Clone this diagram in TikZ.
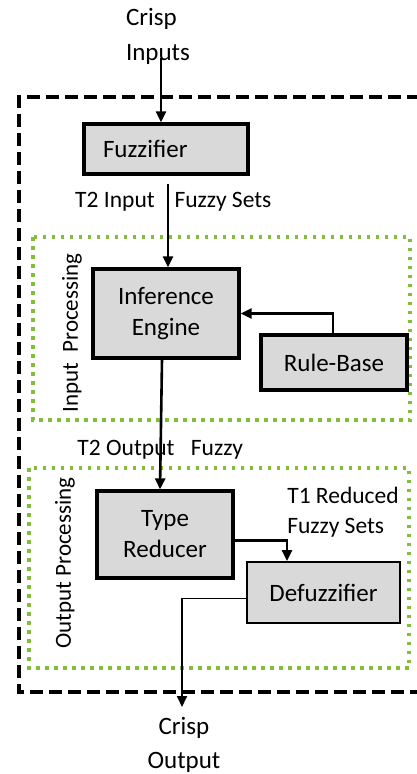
\documentclass[tikz,border=0pt]{standalone}
\usepackage{fontspec}
\setmainfont{Carlito}
\usetikzlibrary{arrows.meta}
\definecolor{boxgray}{RGB}{217,217,217}
\definecolor{dotgreen}{RGB}{130,190,60}

\begin{document}
\begin{tikzpicture}[x=1pt,y=-1pt,>={Triangle[length=11pt,width=10pt]},line width=2.6pt,
    block/.style={draw,line width=3.2pt,fill=boxgray,inner sep=0pt,align=center,font=\fontsize{25}{31}\selectfont},
    lbl/.style={inner sep=0pt,font=\fontsize{23.5}{30}\selectfont},
    region/.style={draw=dotgreen,line width=3.6pt,dash pattern=on 3.5pt off 5.5pt},
    side/.style={inner sep=0pt,rotate=90,font=\fontsize{23}{26}\selectfont}]
    \useasboundingbox (0,0) rectangle (417,774);

    % outer frame and the two processing regions
    \draw[line width=4.5pt,dash pattern=on 13pt off 6pt] (420,97) -- (19,97) -- (19,692) -- (420,692);
    \draw[region] (33,237) rectangle (410,420);
    \draw[region] (29,468) rectangle (409,668);
    \node[side] (inproc) at (72,333) {Input\ \ Processing};
    \node[side] (outproc) at (65,563) {Output Processing};

    % blocks
    \node[block,minimum height=50pt,text width=126pt,inner xsep=19pt,align=left] (fuzz) at (166,149) {Fuzzifier};
    \node[block,minimum width=146pt,minimum height=89pt] (engine) at (166,313.5) {Inference\\Engine};
    \node[block,minimum width=146pt,minimum height=55pt] (rules) at (334,362.5) {Rule-Base};
    \node[block,minimum width=136pt,minimum height=87pt] (reducer) at (165,534.5) {Type\\Reducer};
    \node[block,line width=1.8pt,minimum width=153pt,minimum height=61pt] (defuzz) at (323.5,592.5) {Defuzzifier};

    % texts
    \node[lbl,align=left,font=\fontsize{25}{35}\selectfont] (inputs) at (158,36) {Crisp\\Inputs};
    \node[lbl,align=center,font=\fontsize{25}{34}\selectfont] (output) at (184,745) {Crisp\\Output};
    \node[lbl] (t2in) at (115,202) {T2 Input};
    \node[lbl] (fsin) at (223,202) {Fuzzy Sets};
    \node[lbl] (t2out) at (126,450) {T2 Output};
    \node[lbl] (fsout) at (217,450) {Fuzzy};
    \node[lbl,align=left] (t1red) at (343,512) {T1 Reduced\\Fuzzy Sets};

    \coordinate (in) at (161,58);
    \coordinate (out) at (182,707);

    % connectors
    \draw[->] (in) -- (in |- fuzz.north);
    \draw[->] ([xshift=2pt,yshift=-8pt]fuzz.south) -- ([xshift=2pt]engine.north);
    \draw[->] ([xshift=-1pt]rules.north) |- (engine.east);
    \draw[->] ([xshift=-4pt]engine.south) -- ([xshift=-5pt]reducer.north);
    \draw[->] ([yshift=-6pt]reducer.east) -| (287,0 |- defuzz.north);
    \draw[->,line width=1.8pt] ([yshift=-6pt]defuzz.west) -| (out);
\end{tikzpicture}
\end{document}
